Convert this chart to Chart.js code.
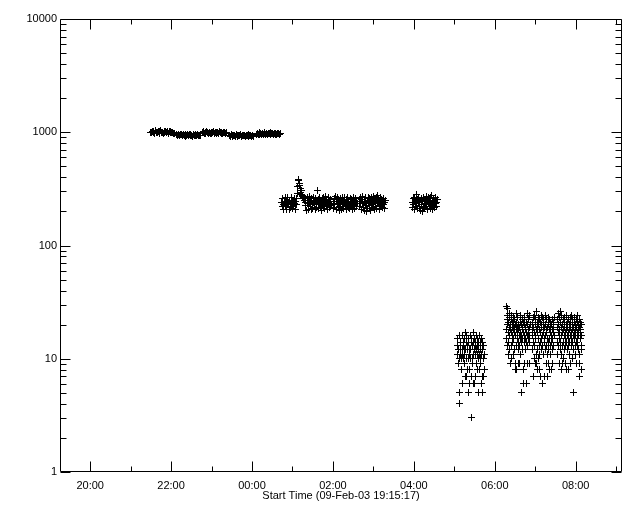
<!DOCTYPE html>
<html>
<head>
<meta charset="utf-8">
<script src="https://cdn.jsdelivr.net/npm/chart.js@4"></script>
<style>
  html, body { margin: 0; padding: 0; background: #fff; }
</style>
</head>
<body>
<canvas id="chart" width="640" height="512"></canvas>
<script>
// x values are seconds after the start time 09-Feb-03 19:15:17
const xMax = 50000;
const majorTicks = [2683, 9883, 17083, 24283, 31483, 38683, 45883];
const majorLabels = ['20:00', '22:00', '00:00', '02:00', '04:00', '06:00', '08:00'];
const minorTicks = [6283, 13483, 20683, 27883, 35083, 42283, 49483];
const yTicks = [1, 10, 100, 1000, 10000];
const axisTitle = 'Start Time (09-Feb-03 19:15:17)';

// top band (~1000), one sample every 75 s
const topStep = 75;
const top1Start = 8062;
const top1 = [1005, 988, 1021, 996, 1012, 979, 1030, 1001, 992, 1018, 984, 1009, 1026, 995, 1003,
              977, 1015, 990, 1024, 999, 1007, 982, 1011, 994, 1019, 986, 1002, 978, 970];
const top2Start = 10374;
const top2 = [952, 931, 960, 941, 927, 955, 946, 935, 962, 938, 924, 950, 943, 957, 929,
              948, 936, 959, 940, 926, 953, 944, 932, 958, 939, 949, 928, 945, 935];
const top3Start = 12685;
const top3 = [990, 1006, 972, 995, 981, 1012, 987, 969, 998, 984, 1003, 976, 993, 1009, 979,
              988, 1000, 970, 996, 983, 1011, 986, 974, 999, 981, 992, 1005, 977, 988];
const top4Start = 15085;
const top4 = [940, 925, 948, 931, 918, 944, 936, 923, 950, 929, 915, 941, 933, 947, 921,
              938, 927, 945, 932, 919, 943, 935, 924, 949, 930, 939, 917, 934, 926];
const top5Start = 17486;
const top5 = [958, 976, 963, 985, 950, 971, 960, 982, 955, 968, 989, 961, 974, 952, 979,
              966, 987, 957, 970, 983, 959, 973, 964, 980, 954, 969, 977, 962, 966];

// middle band (~240), one sample every 45 s
const midStep = 45;
const mid1Start = 19708;
const mid1 = [238, 221, 262, 230, 208, 247, 236, 268, 225, 243, 210, 233, 264, 228, 241,
              206, 249, 237, 215, 266, 231, 245, 212, 240, 226, 261, 234, 209, 246, 229];
const spikeStart = 21041;
const spike = [262, 285, 330, 372, 380, 355, 340, 318, 296, 305, 284, 270, 276, 258, 265, 250];
const mid2Start = 21841;
const mid2 = [242, 225, 203, 264, 233, 210, 249, 237, 270, 228, 244, 207, 258, 235, 214, 266, 240, 230,
              247, 209, 261, 238, 218, 303, 243, 212, 256, 232, 268, 217, 246, 236, 205, 262, 241, 222,
              265, 213, 245, 234, 269, 220, 251, 208, 239, 263, 231, 243, 215, 257, 237, 224];
const mid3Start = 24331;
const mid3 = [236, 212, 258, 228, 270, 207, 243, 233, 264, 218, 247, 204, 239, 261, 222, 244,
              210, 267, 232, 252, 214, 237, 263, 226, 242, 206, 256, 234, 268, 216, 246, 231,
              211, 262, 238, 221, 253, 208, 241, 265, 230, 249, 213, 259, 235, 220, 243, 233];
const mid4Start = 26642;
const mid4 = [244, 220, 265, 233, 209, 256, 239, 271, 218, 247, 205, 236, 263, 224, 199, 251, 214, 268,
              234, 258, 211, 240, 204, 264, 228, 252, 217, 270, 237, 207, 261, 242, 222, 266, 213, 246,
              278, 235, 259, 210, 243, 226, 268, 219, 253, 238, 215, 262, 231, 241, 212, 250];
const mid5Start = 31353;
const mid5 = [238, 215, 261, 228, 268, 208, 245, 236, 280, 220, 254, 212, 241, 265, 223, 249, 205,
              262, 232, 199, 243, 217, 267, 237, 211, 256, 230, 270, 219, 246, 207, 263, 239,
              222, 252, 214, 266, 234, 276, 242, 210, 258, 228, 247, 216, 264, 236, 240, 221, 255];

// low counts
const lowAStep = 25;
const lowAStart = 35350;
const lowA = [13, 11, 15, 9, 12, 9, 10, 16, 5, 4,
              12, 14, 11, 13, 8, 8, 10, 12, 16, 6,
              11, 13, 14, 10, 12, 9, 15, 11, 7, 17,
              12, 7, 14, 10, 16, 8, 13, 12, 15, 5,
              10, 14, 12, 11, 6, 8, 12, 16, 10, 14,
              7, 15, 3, 9, 13, 10, 17, 11, 14, 6,
              12, 15, 6, 13, 11, 7, 14, 12, 16, 9,
              13, 8, 11, 15, 12, 5, 14, 10, 8, 11,
              16, 9, 12, 14, 10, 6, 15, 11, 7, 12,
              5, 14, 10, 7, 13, 11, 8];
const lowStep = 20;
const lowB1Start = 39710;
const lowB1 = [15, 29, 18, 22, 13, 28, 20, 24, 17, 11,
               21, 14, 25, 19, 16, 23, 12, 18, 20, 9,
               9, 22, 10, 17, 24, 13, 19, 21, 16, 14,
               20, 11, 18, 23, 15, 19, 12, 17, 22, 8,
               9, 20, 16, 25, 13, 18, 21, 8, 15, 19,
               17, 23, 12, 20, 14, 9, 18, 16, 9, 13,
               19, 15, 21, 11, 17, 24, 14, 20, 5, 16,
               18, 12, 22, 15, 19, 8, 21, 17, 6, 14,
               20, 16, 9, 23, 18, 15, 19, 12, 6, 17,
               21, 14, 25, 16, 9, 20, 13, 18, 22, 15,
               17, 9, 19, 24, 14, 16, 20];
const lowB2Start = 42020;
const lowB2 = [18, 12, 21, 16, 7, 23, 14, 19, 10, 17,
               24, 13, 20, 15, 22, 9, 16, 11, 18, 26,
               9, 21, 17, 8, 12, 19, 23, 15, 10, 20,
               8, 13, 22, 18, 11, 7, 17, 14, 21, 24,
               12, 19, 15, 20, 16, 6, 23, 13, 18, 22,
               11, 17, 21, 14, 19, 7, 15, 24, 12, 20,
               16, 9, 18, 22, 13, 17, 7, 15, 11, 19,
               14, 23, 9, 20, 12, 18, 8, 22, 15, 17,
               13, 21, 19, 11, 8, 16, 14, 20, 18, 12,
               22, 15, 9, 17, 21, 13, 19, 16, 23];
const lowCStart = 44240;
const lowC = [19, 14, 22, 11, 17, 25, 13, 20, 16, 9,
              23, 15, 18, 12, 26, 21, 14, 19, 8, 16,
              24, 11, 17, 13, 20, 9, 22, 18, 10, 14,
              21, 16, 12, 19, 23, 9, 15, 17, 13, 20,
              8, 18, 24, 14, 16, 21, 12, 19, 8, 15,
              22, 13, 17, 20, 11, 18, 14, 23, 16, 19,
              9, 21, 15, 17, 24, 13, 20, 10, 18, 14,
              22, 16, 5, 19, 12, 21, 15, 17, 23, 13,
              18, 20, 11, 16, 14, 22, 19, 9, 17, 21,
              13, 15, 24, 18, 12, 20, 16, 7, 9, 22,
              19, 11, 17, 21, 15, 18, 13, 20, 16, 8,
              12];

function segment(start, step, vals) {
    return vals.map((v, i) => ({ x: start + i * step, y: v }));
}

const points = [].concat(
    segment(top1Start, topStep, top1),
    segment(top2Start, topStep, top2),
    segment(top3Start, topStep, top3),
    segment(top4Start, topStep, top4),
    segment(top5Start, topStep, top5),
    segment(mid1Start, midStep, mid1),
    segment(spikeStart, midStep, spike),
    segment(mid2Start, midStep, mid2),
    segment(mid3Start, midStep, mid3),
    segment(mid4Start, midStep, mid4),
    segment(mid5Start, midStep, mid5),
    segment(lowAStart, lowAStep, lowA),
    segment(lowB1Start, lowStep, lowB1),
    segment(lowB2Start, lowStep, lowB2),
    segment(lowCStart, lowStep, lowC)
);

// crisp 1px "+" marker
function makeCross(size) {
    const c = document.createElement('canvas');
    c.width = size;
    c.height = size;
    const g = c.getContext('2d');
    const m = Math.floor(size / 2);
    g.fillStyle = '#000';
    g.fillRect(0, m, size, 1);
    g.fillRect(m, 0, 1, size);
    return c;
}
const crossMark = makeCross(7);

// box plus inward ticks on all four sides
const framePlugin = {
    id: 'frame',
    beforeDatasetsDraw(chart) {
        chart.ctx.imageSmoothingEnabled = false;
    },
    afterDatasetsDraw(chart) {
        const { ctx, chartArea: a, scales: { x, y } } = chart;
        ctx.imageSmoothingEnabled = true;
        const L = Math.round(a.left) + 0.5, R = Math.round(a.right) - 0.5;
        const T = Math.round(a.top) + 0.5, B = Math.round(a.bottom) - 0.5;
        ctx.save();
        ctx.strokeStyle = '#000';
        ctx.lineWidth = 1;
        ctx.beginPath();
        ctx.rect(L, T, R - L, B - T);
        const xTick = (v, len) => {
            const px = Math.round(x.getPixelForValue(v)) + 0.5;
            ctx.moveTo(px, B); ctx.lineTo(px, B - len);
            ctx.moveTo(px, T); ctx.lineTo(px, T + len);
        };
        const yTick = (v, len) => {
            const py = Math.round(y.getPixelForValue(v)) + 0.5;
            ctx.moveTo(L, py); ctx.lineTo(L + len, py);
            ctx.moveTo(R, py); ctx.lineTo(R - len, py);
        };
        majorTicks.forEach(v => xTick(v, 10));
        minorTicks.forEach(v => xTick(v, 5));
        yTicks.forEach(v => yTick(v, 10));
        [1, 10, 100, 1000].forEach(d => {
            for (let m = 2; m <= 9; m++) yTick(d * m, 6);
        });
        ctx.stroke();
        ctx.restore();
    }
};

Chart.defaults.font.family = "'Liberation Sans', Arial, sans-serif";
Chart.defaults.font.size = 11;
Chart.defaults.color = '#000';

new Chart(document.getElementById('chart'), {
    type: 'scatter',
    data: {
        datasets: [{
            data: points,
            pointStyle: crossMark,
            pointRadius: 3,
            borderColor: '#000',
            backgroundColor: '#000',
            borderWidth: 1,
            showLine: false
        }]
    },
    options: {
        responsive: false,
        animation: false,
        layout: { padding: { top: 19, right: 18, bottom: 0, left: 0 } },
        plugins: {
            legend: { display: false },
            tooltip: { enabled: false }
        },
        scales: {
            x: {
                type: 'linear',
                min: 0,
                max: xMax,
                grid: { display: false, drawTicks: false },
                border: { display: false },
                afterBuildTicks: s => { s.ticks = majorTicks.map(v => ({ value: v })); },
                afterFit: s => { s.height = 40; },
                ticks: {
                    autoSkip: false,
                    maxRotation: 0,
                    minRotation: 0,
                    padding: 7,
                    callback: (v) => majorLabels[majorTicks.indexOf(v)]
                },
                title: {
                    display: true,
                    text: axisTitle,
                    padding: { top: 0, bottom: 9 }
                }
            },
            y: {
                type: 'logarithmic',
                min: 1,
                max: 10000,
                grid: { display: false, drawTicks: false },
                border: { display: false },
                afterBuildTicks: s => { s.ticks = yTicks.map(v => ({ value: v })); },
                afterFit: s => { s.width = 60; },
                ticks: {
                    padding: 3,
                    callback: (v) => String(v)
                }
            }
        }
    },
    plugins: [framePlugin]
});
</script>
</body>
</html>
